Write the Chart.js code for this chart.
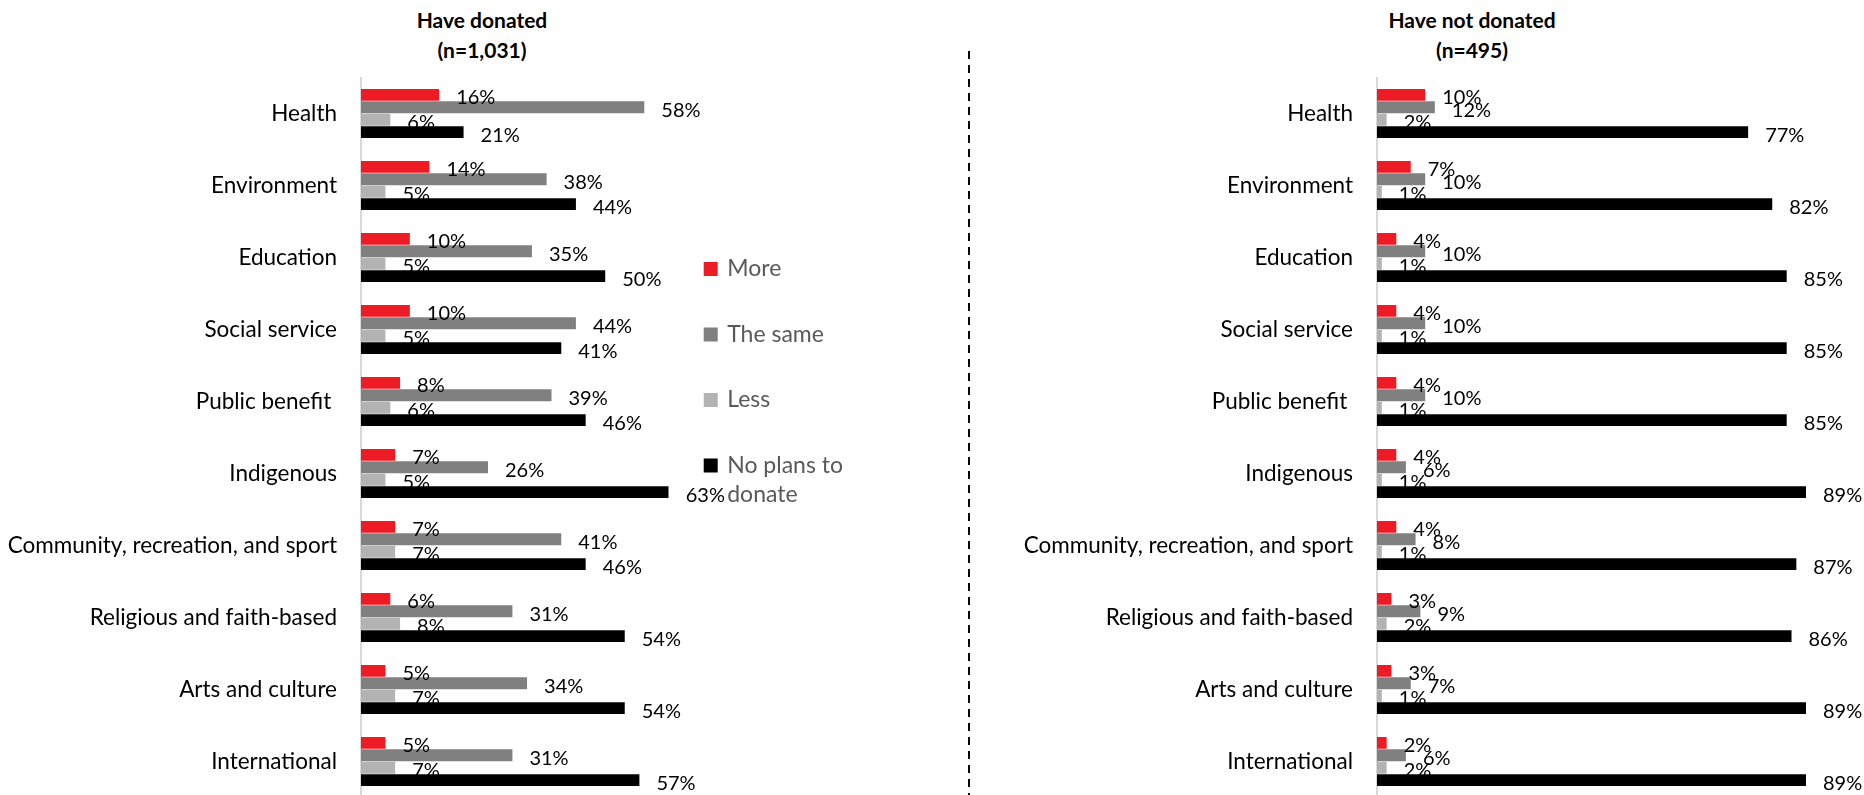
<!DOCTYPE html>
<html>
<head>
<meta charset="utf-8">
<script src="https://cdn.jsdelivr.net/npm/chart.js@4.4.1/dist/chart.umd.min.js"></script>
<style>
  html, body { margin: 0; padding: 0; background: #fff; overflow: hidden; }
  body { width: 1864px; height: 795px; position: relative; font-family: Lato, sans-serif; }
  .titulo { position: absolute; top: 5px; width: 400px; text-align: center; font-weight: bold; font-size: 21px; line-height: 30px; color: #000; }
  #tituloDoou { left: 282px; }
  #tituloNaoDoou { left: 1272px; }
  #caixaDoou { position: absolute; left: 0; top: 0; width: 964px; height: 800px; }
  #caixaNaoDoou { position: absolute; left: 975px; top: 0; width: 889px; height: 800px; }
  #divisor { position: absolute; left: 968px; top: 51px; width: 2px; height: 744px;
    background: repeating-linear-gradient(to bottom, #000 0, #000 8px, transparent 8px, transparent 14px); }
</style>
</head>
<body>
<div class="titulo" id="tituloDoou">Have donated<br>(n=1,031)</div>
<div class="titulo" id="tituloNaoDoou">Have not donated<br>(n=495)</div>
<div id="divisor"></div>
<div id="caixaDoou"><canvas id="chartDoou"></canvas></div>
<div id="caixaNaoDoou"><canvas id="chartNaoDoou"></canvas></div>
<script>
  var categorias = ['Health', 'Environment', 'Education', 'Social service', 'Public benefit ', 'Indigenous',
    'Community, recreation, and sport', 'Religious and faith-based', 'Arts and culture', 'International'];
  var series = ['More', 'The same', 'Less', 'No plans to donate'];
  var linhasLegenda = [['More'], ['The same'], ['Less'], ['No plans to', 'donate']];
  var cores = ['#ED1C24', '#808080', '#B3B3B3', '#000000'];

  // quem doou (n=1,031)
  var doouMais = [16, 14, 10, 10, 8, 7, 7, 6, 5, 5];
  var doouIgual = [58, 38, 35, 44, 39, 26, 41, 31, 34, 31];
  var doouMenos = [6, 5, 5, 5, 6, 5, 7, 8, 7, 7];
  var doouSemPlanos = [21, 44, 50, 41, 46, 63, 46, 54, 54, 57];

  // quem não doou (n=495)
  var naoDoouMais = [10, 7, 4, 4, 4, 4, 4, 3, 3, 2];
  var naoDoouIgual = [12, 10, 10, 10, 10, 6, 8, 9, 7, 6];
  var naoDoouMenos = [2, 1, 1, 1, 1, 1, 1, 2, 1, 2];
  var naoDoouSemPlanos = [77, 82, 85, 85, 85, 89, 87, 86, 89, 89];

  // rótulos "xx%" logo depois do fim de cada barra
  var rotulosValor = {
    id: 'rotulosValor',
    afterDatasetsDraw: function (chart) {
      var ctx = chart.ctx;
      ctx.save();
      ctx.font = '20px Lato';
      ctx.fillStyle = '#000';
      ctx.textAlign = 'left';
      ctx.textBaseline = 'middle';
      chart.data.datasets.forEach(function (ds, i) {
        chart.getDatasetMeta(i).data.forEach(function (barra, j) {
          ctx.fillText(ds.data[j] + '%', barra.x + 17, barra.y + 3);
        });
      });
      ctx.restore();
    }
  };

  function montarDatasets(valores) {
    return valores.map(function (v, i) {
      return {
        label: series[i],
        data: v,
        backgroundColor: cores[i],
        borderWidth: 0,
        categoryPercentage: 0.69,
        barPercentage: 0.96
      };
    });
  }

  function montarGrafico(id, valores, maxX, larguraEixo, padding, legenda) {
    var ctx = document.getElementById(id).getContext('2d');
    return new Chart(ctx, {
      type: 'bar',
      data: { labels: categorias, datasets: montarDatasets(valores) },
      options: {
        indexAxis: 'y',
        responsive: true,
        maintainAspectRatio: false,
        animation: false,
        layout: { padding: padding },
        plugins: {
          tooltip: { enabled: false },
          legend: legenda
        },
        scales: {
          x: { display: false, min: 0, max: maxX },
          y: {
            grid: { display: false },
            border: { display: true, color: '#D9D9D9', width: 2 },
            ticks: { color: '#000', font: { family: 'Lato', size: 22.5 }, padding: 16, autoSkip: false },
            afterFit: function (escala) {
              // largura fixa do eixo e sem folga extra em cima/embaixo para os rótulos
              escala.width = larguraEixo;
              escala.paddingTop = 0;
              escala.paddingBottom = 0;
            }
          }
        }
      },
      plugins: [rotulosValor]
    });
  }

  var legendaDoou = {
    display: true,
    position: 'right',
    align: 'start',
    title: { display: true, text: '', font: { size: 10, lineHeight: 1 }, padding: { top: 133, bottom: 0 } },
    labels: {
      usePointStyle: true,
      pointStyle: 'rect',
      boxWidth: 10,
      boxHeight: 14,
      padding: 37,
      color: '#595959',
      font: { family: 'Lato', size: 23, lineHeight: 1.24 },
      generateLabels: function (chart) {
        var itens = Chart.defaults.plugins.legend.labels.generateLabels(chart);
        itens.forEach(function (it) { it.text = linhasLegenda[it.datasetIndex]; });
        return itens;
      }
    }
  };

  var graficoDoou = montarGrafico('chartDoou',
    [doouMais, doouIgual, doouMenos, doouSemPlanos], 63, 361,
    { top: 77.5, bottom: 2.5, left: 0, right: 111 }, legendaDoou);

  var graficoNaoDoou = montarGrafico('chartNaoDoou',
    [naoDoouMais, naoDoouIgual, naoDoouMenos, naoDoouSemPlanos], 100, 402,
    { top: 77.5, bottom: 2.5, left: 0, right: 5 }, { display: false });
</script>
</body>
</html>
